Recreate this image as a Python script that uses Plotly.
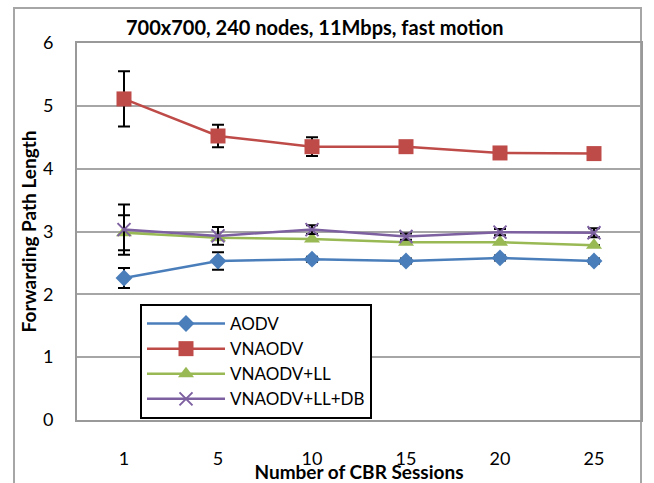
import plotly.graph_objects as go

categories = ["1", "5", "10", "15", "20", "25"]
series_names = ["AODV", "VNAODV", "VNAODV+LL", "VNAODV+LL+DB"]
aodv = [2.26, 2.53, 2.56, 2.53, 2.58, 2.53]
vnaodv = [5.11, 4.52, 4.35, 4.35, 4.25, 4.24]
vnaodv_ll = [2.98, 2.90, 2.88, 2.83, 2.83, 2.78]
vnaodv_ll_db = [3.03, 2.93, 3.03, 2.92, 2.99, 2.98]
aodv_err = [0.16, 0.14, 0.04, 0.04, 0.04, 0.04]
vnaodv_err = [0.44, 0.18, 0.15, 0.0, 0.0, 0.0]
vnaodv_ll_err = [0.28, 0.0, 0.0, 0.0, 0.0, 0.0]
vnaodv_ll_db_err = [0.40, 0.14, 0.07, 0.05, 0.05, 0.07]

colors = ["#4a7ebb", "#be4b48", "#98b954", "#7d60a0"]
symbols = ["diamond", "square", "triangle-up", "x-thin"]
values = [aodv, vnaodv, vnaodv_ll, vnaodv_ll_db]
errors = [aodv_err, vnaodv_err, vnaodv_ll_err, vnaodv_ll_db_err]
sizes = [13, 15, 14, 13]

fig = go.Figure()
for name, vals, errs, col, sym, sz in zip(series_names, values, errors, colors, symbols, sizes):
    marker = dict(symbol=sym, size=sz, color=col)
    if sym == "x-thin":
        marker["line"] = dict(color=col, width=2)
    fig.add_trace(go.Scatter(
        x=categories, y=vals, name=name, mode="lines+markers",
        line=dict(color=col, width=2.5),
        marker=marker,
        error_y=dict(type="data", array=errs, visible=True, color="black",
                     thickness=2, width=6),
    ))

font_family = "Lato, 'Open Sans', sans-serif"
fig.update_layout(
    width=654, height=483,
    margin=dict(l=77, r=13, t=43, b=63),
    paper_bgcolor="white", plot_bgcolor="white",
    font=dict(family=font_family, size=18, color="black"),
    showlegend=True,
    legend=dict(
        x=(140 - 77) / 564, y=(420 - 304) / 377, xanchor="left", yanchor="top",
        bordercolor="black", borderwidth=2, bgcolor="white",
        font=dict(size=17, family=font_family), itemwidth=78,
        entrywidth=210, entrywidthmode="pixels",
        tracegroupgap=0, traceorder="normal",
    ),
    xaxis=dict(
        type="category", range=[-0.5, 5.5], showgrid=False, automargin=False,
        showline=True, linecolor="#999999", linewidth=2, mirror=True,
        ticks="", ticklabelstandoff=21, zeroline=False,
        title=dict(text="<b>Number of CBR Sessions</b>", standoff=0,
                   font=dict(size=19)),
    ),
    yaxis=dict(
        range=[0, 6], dtick=1, showgrid=True, gridcolor="#a6a6a6", gridwidth=2,
        showline=True, linecolor="#999999", linewidth=2, mirror=True,
        automargin=False,
        ticks="", ticklabelstandoff=18, zeroline=False,
        title=dict(text="<b>Forwarding Path Length</b>", standoff=1,
                   font=dict(size=19)),
    ),
    annotations=[dict(
        text="<b>700x700, 240 nodes, 11Mbps, fast motion</b>",
        xref="paper", yref="paper",
        x=(314 - 77) / 564, y=1 + (43 - 27) / 377,
        xanchor="center", yanchor="middle", showarrow=False,
        font=dict(size=20, family=font_family),
    )],
    shapes=[dict(
        type="rect", xref="paper", yref="paper",
        x0=(14 - 77) / 564, x1=(641 - 77) / 564,
        y0=-0.3, y1=1 + (43 - 8) / 377,
        line=dict(color="#a6a6a6", width=2), layer="below",
    )],
)

fig.write_html("out.html")
